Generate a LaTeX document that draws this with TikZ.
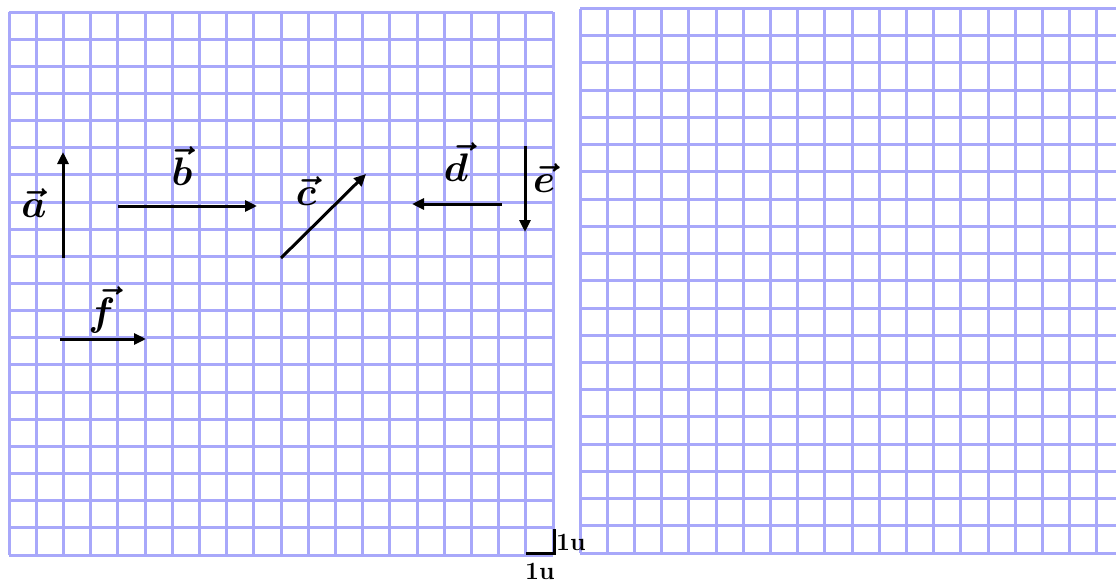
\documentclass[tikz,border=0pt]{standalone}
\usepackage{graphicx}
\usetikzlibrary{arrows.meta}
\definecolor{gridblue}{RGB}{168,168,250}
\newcommand{\biglabel}[1]{\scalebox{1.6}{\Huge\boldmath$\vec{#1}$}}
\tikzset{
  gridline/.style={gridblue, line width=3pt},
  vec/.style={line width=3pt, -{Triangle[length=12pt,width=11pt]}},
  veclabel/.style={inner sep=0pt},
  unitlabel/.style={font=\Huge\bfseries, inner sep=0pt},
  scalebar/.style={line width=3pt}
}
\begin{document}
\begin{tikzpicture}[x=1pt,y=-1pt]
\useasboundingbox (0,0) rectangle (1116,581);
% left grid
\foreach \i in {0,...,20} {
  \draw[gridline] ({9+27.2*\i},12) -- ({9+27.2*\i},555);
  \draw[gridline] (9,{12+27.15*\i}) -- (553,{12+27.15*\i});
}
% right grid
\begin{scope}
  \clip (570,0) rectangle (1116,581);
  \foreach \i in {0,...,20} {
    \draw[gridline] ({580+27.2*\i},8.5) -- ({580+27.2*\i},553);
    \draw[gridline] (580,{8.5+27.23*\i}) -- (1130,{8.5+27.23*\i});
  }
\end{scope}
% vectors
\coordinate (a0) at (63,258); \coordinate (a1) at (63,152);
\coordinate (b0) at (118,206); \coordinate (b1) at (257,206);
\coordinate (c0) at (281,258); \coordinate (c1) at (366,174);
\coordinate (d0) at (502,204); \coordinate (d1) at (412,204);
\coordinate (e0) at (525,146); \coordinate (e1) at (525,232);
\coordinate (f0) at (60,339); \coordinate (f1) at (146,339);
\draw[vec] (a0) -- (a1);
\draw[vec] (b0) -- (b1);
\draw[vec] (c0) -- (c1);
\draw[vec] (d0) -- (d1);
\draw[vec] (e0) -- (e1);
\draw[vec] (f0) -- (f1);
% labels
\node[veclabel] (la) at (34,203) {\biglabel{a}};
\node[veclabel] (lb) at (182,166) {\biglabel{b}};
\node[veclabel] (lc) at (306,191) {\biglabel{c}};
\node[veclabel] (ld) at (456,162) {\biglabel{d}};
\node[veclabel] (le) at (544,178) {\biglabel{e}};
\node[veclabel] (lf) at (102,310) {\biglabel{f}};
% unit scale
\coordinate (s0) at (526,553); \coordinate (s1) at (554,553); \coordinate (s2) at (554,529);
\draw[scalebar] (s0) -- (s1) -- (s2);
\node[unitlabel] (u1) at (571,542) {1u};
\node[unitlabel] (u2) at (540,571) {1u};
\end{tikzpicture}
\end{document}
